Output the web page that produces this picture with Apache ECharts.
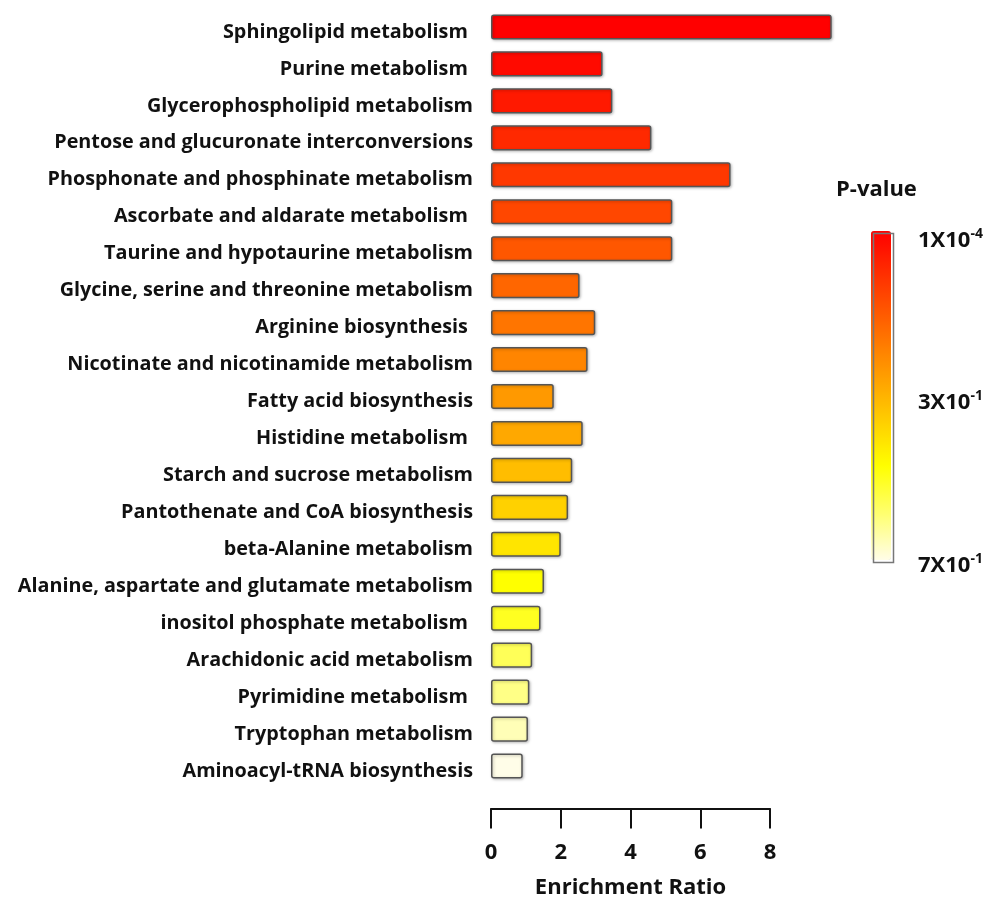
<!DOCTYPE html>
<html>
<head>
<meta charset="utf-8">
<script src="https://cdn.jsdelivr.net/npm/echarts@6/dist/echarts.min.js"></script>
<style>
  html, body { margin: 0; padding: 0; background: #fff; }
  #main { width: 1000px; height: 900px; }
</style>
</head>
<body>
<div id="main"></div>
<script>
// pathways, top to bottom
var pathways = [
  'Sphingolipid metabolism ',
  'Purine metabolism ',
  'Glycerophospholipid metabolism',
  'Pentose and glucuronate interconversions',
  'Phosphonate and phosphinate metabolism',
  'Ascorbate and aldarate metabolism ',
  'Taurine and hypotaurine metabolism',
  'Glycine, serine and threonine metabolism',
  'Arginine biosynthesis ',
  'Nicotinate and nicotinamide metabolism',
  'Fatty acid biosynthesis',
  'Histidine metabolism ',
  'Starch and sucrose metabolism',
  'Pantothenate and CoA biosynthesis',
  'beta-Alanine metabolism',
  'Alanine, aspartate and glutamate metabolism',
  'inositol phosphate metabolism ',
  'Arachidonic acid metabolism',
  'Pyrimidine metabolism ',
  'Tryptophan metabolism',
  'Aminoacyl-tRNA biosynthesis'
];
// enrichment ratio (bar length)
var ratios = [9.77, 3.2, 3.48, 4.6, 6.87, 5.2, 5.2, 2.54, 2.99, 2.77, 1.8,
  2.63, 2.33, 2.21, 2.0, 1.52, 1.42, 1.18, 1.1, 1.06, 0.91];
// p-values
var pValues = [0.0001, 0.02, 0.05, 0.08, 0.11, 0.14, 0.17, 0.2, 0.23, 0.26, 0.3,
  0.33, 0.37, 0.41, 0.45, 0.5, 0.53, 0.58, 0.62, 0.66, 0.7];
var xTicks = [0, 8, 2];  // min, max, interval
var pMin = 0.0001, pMax = 0.7;

var chart = echarts.init(document.getElementById('main'));
var fontFam = '"Open Sans", "Noto Sans", sans-serif';

var data = pathways.map(function (name, i) {
  return [ratios[i], name, pValues[i]];
});

function sciLabel(txt, top) {
  return {
    type: 'text', left: 918, top: top,
    style: {
      text: txt, fill: '#111',
      rich: {
        b: { fontSize: 22, fontWeight: 'bold', fontFamily: fontFam },
        s: { fontSize: 14, fontWeight: 'bold', fontFamily: fontFam, padding: [0, 0, 13, 0] }
      }
    }
  };
}

var option = {
  animation: false,
  textStyle: { fontFamily: fontFam },
  grid: { left: 491, right: 230, top: 8.5, bottom: 115.5, outerBoundsMode: 'none' },
  xAxis: {
    type: 'value',
    min: xTicks[0],
    max: xTicks[1],
    interval: xTicks[2],
    offset: 24,
    splitLine: { show: false },
    axisLine: { show: true, lineStyle: { color: '#111', width: 2 } },
    axisTick: { show: true, length: 20, lineStyle: { color: '#111', width: 2 } },
    axisLabel: { margin: 33, color: '#111', fontSize: 22, fontWeight: 'bold' },
    name: 'Enrichment Ratio',
    nameLocation: 'middle',
    nameGap: 68,
    nameTextStyle: { color: '#111', fontSize: 22, fontWeight: 'bold' }
  },
  yAxis: {
    type: 'category',
    data: pathways,
    inverse: true,
    axisLine: { show: false },
    axisTick: { show: false },
    axisLabel: {
      margin: 18, color: '#111', fontSize: 19.8, fontWeight: 'bold',
      verticalAlign: 'top', lineHeight: 10
    }
  },
  visualMap: {
    type: 'continuous',
    min: pMin,
    max: pMax,
    dimension: 2,
    seriesIndex: 0,
    inverse: true,
    calculable: false,
    left: 856,
    top: 216,
    itemWidth: 20,
    itemHeight: 329,
    inRange: {
      color: ['#ff0000', '#ff3300', '#ff6600', '#ff9900', '#ffcc00', '#ffff00', '#ffff6e', '#fffde8']
    }
  },
  graphic: [
    { type: 'rect', left: 871, top: 231, shape: { width: 20, height: 329 },
      style: { fill: 'none', stroke: '#777', lineWidth: 1.5 }, z: 100 },
    { type: 'text', left: 836, top: 179,
      style: { text: 'P-value', fill: '#111', font: 'bold 22px ' + fontFam } },
    sciLabel('{b|1X10}{s|-4}', 227),
    sciLabel('{b|3X10}{s|-1}', 389),
    sciLabel('{b|7X10}{s|-1}', 552)
  ],
  series: [{
    type: 'bar',
    data: data,
    encode: { x: 0, y: 1 },
    barWidth: '68%',
    clip: false,
    itemStyle: {
      borderColor: '#555',
      borderWidth: 1.5,
      borderRadius: 2,
      shadowBlur: 3,
      shadowColor: 'rgba(0,0,0,0.25)',
      shadowOffsetX: 1,
      shadowOffsetY: 1
    }
  }]
};
chart.setOption(option);
</script>
</body>
</html>
